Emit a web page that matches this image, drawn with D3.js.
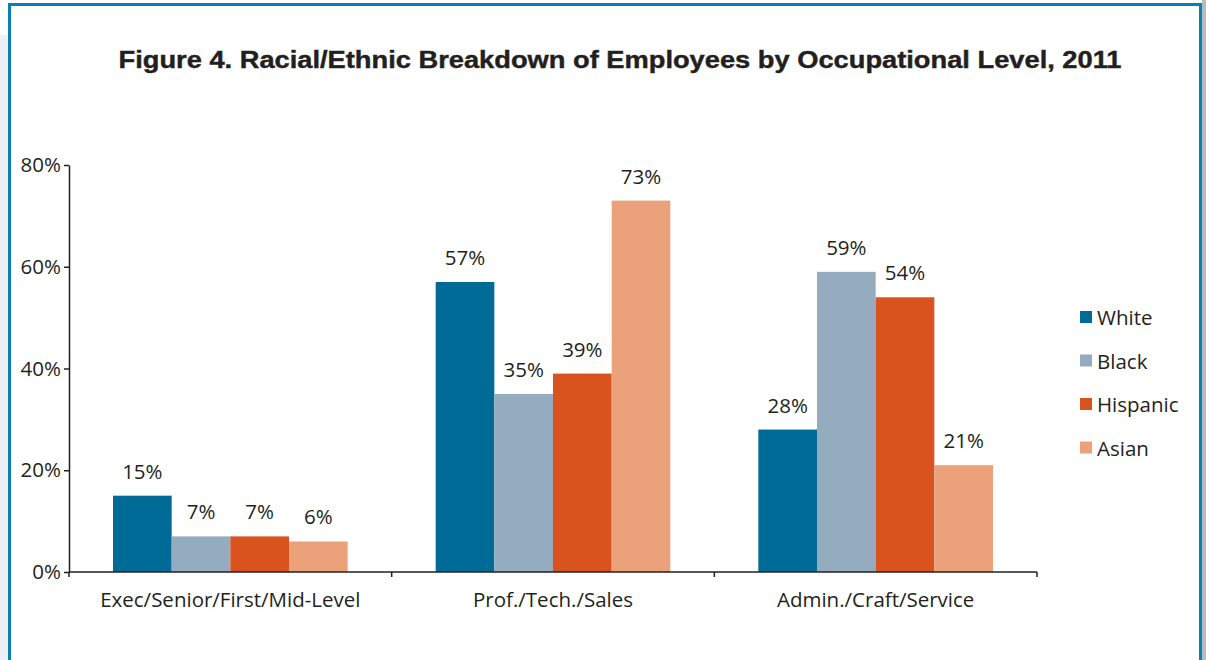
<!DOCTYPE html>
<html>
<head>
<meta charset="utf-8">
<script src="https://cdn.jsdelivr.net/npm/d3@7"></script>
<style>
  html, body { margin: 0; padding: 0; background: #fff; }
  svg { display: block; }
</style>
</head>
<body>
<svg id="chart" width="1206" height="660"></svg>
<script>
// Occupational levels (x categories)
const categories = ["Exec/Senior/First/Mid-Level", "Prof./Tech./Sales", "Admin./Craft/Service"];
// Racial/ethnic groups (series)
const series = ["White", "Black", "Hispanic", "Asian"];
// Percent of employees, one array per series, in category order
const white    = [15, 57, 28];
const black    = [7, 35, 59];
const hispanic = [7, 39, 54];
const asian    = [6, 73, 21];
// Y-axis ticks
const yTicks = [0, 20, 40, 60, 80];

const colors = ["#006b96", "#95abc0", "#d9531f", "#eba27a"];
const valuesBySeries = [white, black, hispanic, asian];

const rows = categories.map((c, i) => ({
  category: c,
  values: series.map((s, j) => ({ key: s, value: valuesBySeries[j][i] }))
}));

const svg = d3.select("#chart");
const font = "'Open Sans', 'Liberation Sans', Arial, sans-serif";
const titleFont = "'Liberation Sans', Arial, sans-serif";
const fs = 20.5;
const textColor = "#231f20";

// Page backdrop and framed panel
svg.append("rect").attr("x", 0).attr("y", 35).attr("width", 9).attr("height", 625).attr("fill", "#edf1f5");
svg.append("rect").attr("x", 1202).attr("y", 0).attr("width", 4).attr("height", 660).attr("fill", "#b8babc");
svg.append("path")
  .attr("d", "M9.5,660 V4.5 H1200.5 V660")
  .attr("fill", "none").attr("stroke", "#0a80b2").attr("stroke-width", 3);

// Title
svg.append("text")
  .attr("x", 620).attr("y", 68)
  .attr("text-anchor", "middle")
  .attr("font-family", titleFont)
  .attr("font-weight", "bold")
  .attr("font-size", 23)
  .attr("fill", textColor)
  .attr("stroke", textColor).attr("stroke-width", 0.4)
  .attr("textLength", 1003)
  .attr("lengthAdjust", "spacingAndGlyphs")
  .text("Figure 4. Racial/Ethnic Breakdown of Employees by Occupational Level, 2011");

// Scales
const x0 = d3.scaleBand().domain(categories).range([69, 1037]).padding(0);
const x1 = d3.scaleBand().domain(series).range([0, x0.bandwidth()]).paddingInner(0).paddingOuter(0.75);
const y = d3.scaleLinear().domain([0, 80]).range([572, 165]);
const color = d3.scaleOrdinal().domain(series).range(colors);

// Bars
const groups = svg.append("g").selectAll("g")
  .data(rows).join("g")
  .attr("transform", d => `translate(${x0(d.category)},0)`);

groups.selectAll("rect")
  .data(d => d.values).join("rect")
  .attr("x", d => x1(d.key))
  .attr("y", d => y(d.value))
  .attr("width", x1.bandwidth())
  .attr("height", d => y(0) - y(d.value))
  .attr("fill", d => color(d.key));

// Value labels
groups.selectAll("text")
  .data(d => d.values).join("text")
  .attr("x", d => x1(d.key) + x1.bandwidth() / 2)
  .attr("y", d => y(d.value) - 17)
  .attr("text-anchor", "middle")
  .attr("font-family", font)
  .attr("font-size", fs)
  .attr("fill", textColor)
  .text(d => d.value + "%");

// Y axis
const yAxis = d3.axisLeft(y).tickValues(yTicks).tickFormat(d => d + "%").tickSize(5).tickSizeOuter(0);
const gy = svg.append("g").attr("transform", "translate(69,0)").call(yAxis);
gy.select(".domain").attr("stroke", "#231f20").attr("stroke-width", 1.5);
gy.selectAll(".tick line").attr("stroke", "#231f20").attr("stroke-width", 1.5);
gy.selectAll(".tick text")
  .attr("x", -8)
  .attr("font-family", font).attr("font-size", fs).attr("fill", textColor);

// X axis: ticks at the category boundaries
const gx = svg.append("g").attr("transform", "translate(0,572)");
gx.append("line")
  .attr("x1", x0.range()[0]).attr("x2", x0.range()[1])
  .attr("stroke", "#231f20").attr("stroke-width", 1.5);
const boundaries = categories.map(c => x0(c)).concat([x0.range()[1]]);
gx.selectAll("line.tick")
  .data(boundaries).join("line").attr("class", "tick")
  .attr("x1", d => d).attr("x2", d => d)
  .attr("y1", 0).attr("y2", 5)
  .attr("stroke", "#231f20").attr("stroke-width", 1.5);
gx.selectAll("text")
  .data(categories).join("text")
  .attr("x", d => x0(d) + x0.bandwidth() / 2)
  .attr("y", 35)
  .attr("text-anchor", "middle")
  .attr("font-family", font).attr("font-size", fs).attr("fill", textColor)
  .text(d => d);

// Legend
const legend = svg.append("g").attr("transform", "translate(1080,311)");
const li = legend.selectAll("g").data(series).join("g")
  .attr("transform", (d, i) => `translate(0,${i * 43.5})`);
li.append("rect").attr("width", 12).attr("height", 12).attr("fill", d => color(d));
li.append("text")
  .attr("x", 17).attr("y", 14)
  .attr("font-family", font).attr("font-size", fs).attr("fill", textColor)
  .text(d => d);
</script>
</body>
</html>
